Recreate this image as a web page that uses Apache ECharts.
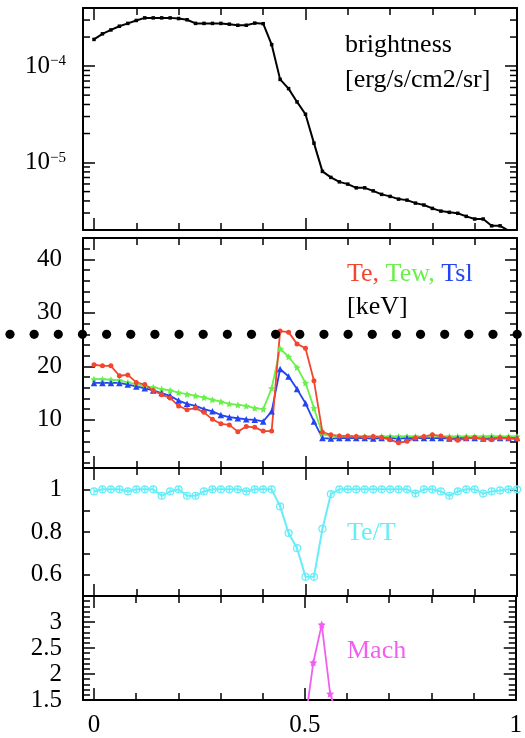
<!DOCTYPE html>
<html>
<head>
<meta charset="utf-8">
<script src="https://cdn.jsdelivr.net/npm/echarts@6/dist/echarts.min.js"></script>
<style>
  html, body { margin: 0; padding: 0; background: #fff; }
  #chart { width: 525px; height: 738px; }
</style>
</head>
<body>
<div id="chart"></div>
<script>
// Radial position (normalised) shared by all four stacked panels
const xs = [0, 0.02, 0.04, 0.06, 0.08, 0.1, 0.12, 0.14, 0.16, 0.18,
  0.2, 0.22, 0.24, 0.26, 0.28, 0.3, 0.32, 0.34, 0.36, 0.38,
  0.4, 0.42, 0.44, 0.46, 0.48, 0.5, 0.52, 0.54, 0.56, 0.58,
  0.6, 0.62, 0.64, 0.66, 0.68, 0.7, 0.72, 0.74, 0.76, 0.78,
  0.8, 0.82, 0.84, 0.86, 0.88, 0.9, 0.92, 0.94, 0.96, 0.98, 1.0];

// Surface brightness [erg/s/cm2/sr]
const brightness = [1.89e-4, 2.16e-4, 2.37e-4, 2.59e-4, 2.77e-4, 2.97e-4, 3.16e-4, 3.16e-4, 3.16e-4, 3.16e-4,
  3.11e-4, 3.02e-4, 2.77e-4, 2.77e-4, 2.77e-4, 2.77e-4, 2.72e-4, 2.65e-4, 2.65e-4, 2.79e-4,
  2.75e-4, 1.67e-4, 7.28e-5, 5.84e-5, 4.25e-5, 3.17e-5, 1.59e-5, 8.1e-6, 7.02e-6, 6.31e-6,
  5.98e-6, 5.47e-6, 5.47e-6, 5.09e-6, 4.68e-6, 4.46e-6, 4.18e-6, 4.08e-6, 3.8e-6, 3.63e-6,
  3.35e-6, 3.14e-6, 3.05e-6, 2.98e-6, 2.77e-6, 2.6e-6, 2.6e-6, 2.21e-6, 2.21e-6, 1.97e-6, 1.7e-6];

// Temperatures [keV]
const te = [20.3, 20.1, 20.1, 18.25, 18.4, 17.0, 16.6, 15.5, 14.7, 14.1,
  12.6, 11.9, 12.2, 11.4, 10.1, 9.25, 9.06, 7.8, 8.75, 8.6,
  7.9, 7.9, 26.6, 26.4, 24.2, 23.4, 17.3, 7.7, 7.2, 7.0,
  7.0, 6.9, 6.8, 6.9, 6.7, 6.3, 5.7, 6.0, 6.6, 6.9,
  7.2, 7.0, 6.5, 6.2, 6.5, 6.7, 6.4, 6.3, 6.6, 6.5, 6.4];
const tew = [17.6, 17.6, 17.5, 17.4, 17.0, 16.7, 16.25, 16.1, 15.75, 15.5,
  15.1, 14.8, 14.5, 14.2, 13.75, 13.4, 13.0, 12.8, 12.6, 12.2,
  12.0, 15.9, 23.3, 21.8, 19.8, 16.9, 12.2, 7.3, 7.0, 6.9,
  6.9, 6.9, 6.9, 6.9, 6.9, 6.9, 6.9, 6.9, 6.9, 6.9,
  7.1, 6.9, 6.9, 6.9, 6.9, 6.9, 6.9, 7.0, 6.9, 6.9, 6.9];
const tsl = [16.9, 16.9, 16.9, 16.9, 16.6, 16.25, 15.9, 15.5, 15.0, 14.5,
  13.6, 13.0, 12.6, 12.0, 11.6, 10.9, 10.5, 10.3, 10.1, 10.0,
  9.7, 11.6, 19.5, 18.1, 15.75, 13.1, 9.7, 6.6, 6.5, 6.6,
  6.6, 6.6, 6.6, 6.5, 6.6, 6.6, 6.5, 6.6, 6.6, 6.6,
  6.6, 6.6, 6.5, 6.6, 6.6, 6.6, 6.5, 6.6, 6.6, 6.6, 6.6];

// Electron-to-ion temperature ratio
const teOverT = [0.99, 1.0, 1.0, 1.0, 0.99, 1.0, 1.0, 1.0, 0.97, 0.99,
  1.0, 0.97, 0.97, 0.99, 1.0, 1.0, 1.0, 1.0, 0.99, 1.0,
  1.0, 1.0, 0.92, 0.795, 0.724, 0.59, 0.59, 0.815, 0.978, 1.0,
  1.0, 1.0, 1.0, 1.0, 1.0, 1.0, 1.0, 1.0, 0.98, 1.0,
  1.0, 0.99, 0.97, 0.99, 1.0, 1.0, 0.98, 0.99, 0.995, 1.0, 1.0];

// Mach number (only defined across the shock)
const mach = [null, null, null, null, null, null, null, null, null, null,
  null, null, null, null, null, null, null, null, null, null,
  null, null, null, null, null, 1.03, 2.22, 2.95, 1.62, 1.12,
  null, null, null, null, null, null, null, null, null, null,
  null, null, null, null, null, null, null, null, null, null, null];

// Reference temperature level drawn as a dotted line [keV]
const refLevel = 26;

// Tick labels per axis
const xTickLabels = [0, 0.5, 1];
const brightTickLabels = [1e-5, 1e-4];
const brightMinorTicks = [3e-6, 4e-6, 5e-6, 6e-6, 7e-6, 8e-6, 9e-6,
  2e-5, 3e-5, 4e-5, 5e-5, 6e-5, 7e-5, 8e-5, 9e-5, 2e-4, 3e-4];
const tempTickLabels = [10, 20, 30, 40];
const ratioTickLabels = [0.6, 0.8, 1];
const machTickLabels = [1.5, 2, 2.5, 3];

const FONT = '"Liberation Serif", "DejaVu Serif", serif';
const C_RED = '#f2462e', C_GREEN = '#6af04a', C_BLUE = '#2244f2',
      C_CYAN = '#66eef8', C_MAG = '#f25ef2';
const STAR = 'path://M0,-10 L2.9,-4 L9.5,-3.1 L4.7,1.5 L5.9,8.1 L0,5 L-5.9,8.1 L-4.7,1.5 L-9.5,-3.1 L-2.9,-4 Z';
const RING_CROSS = 'path://M0,-6 L0,6 M6,0 A6,6 0 1,1 -6,0 A6,6 0 1,1 6,0 Z';

const grids = [
  { left: 83, top: 8, width: 434, height: 222 },
  { left: 83, top: 238, width: 434, height: 230 },
  { left: 83, top: 468, width: 434, height: 128 },
  { left: 83, top: 596, width: 434, height: 111 }
];

const near = (list, v) => list.some(t => Math.abs(t - v) <= Math.abs(t) * 1e-6 + 1e-9);
const lineBlack = { color: '#000', width: 2 };
const tickBlack = { color: '#000', width: 1.5 };

function xPair(gi, withLabels) {
  const base = {
    type: 'value', gridIndex: gi, min: -0.026, max: 1, splitNumber: 2,
    axisLine: { show: true, onZero: false, lineStyle: lineBlack },
    axisTick: { show: true, inside: true, length: 12, lineStyle: tickBlack },
    minorTick: { show: true, splitNumber: 5, length: 7, lineStyle: tickBlack },
    splitLine: { show: false }, minorSplitLine: { show: false }
  };
  return [
    Object.assign({}, base, {
      position: 'bottom',
      axisLabel: {
        show: withLabels, margin: 13, fontFamily: FONT, fontSize: 25, color: '#000',
        formatter: v => near(xTickLabels, v) ? String(+v.toFixed(1)) : ''
      }
    }),
    Object.assign({}, base, { position: 'top', axisLabel: { show: false } })
  ];
}

function yPair(gi, cfg) {
  const base = Object.assign({
    gridIndex: gi,
    axisLine: { show: true, onZero: false, lineStyle: lineBlack },
    axisTick: { show: true, inside: true, length: cfg.tickLen || 12, lineStyle: tickBlack },
    minorTick: { show: !!cfg.minor, splitNumber: cfg.minor || 5, length: 7, lineStyle: tickBlack },
    splitLine: { show: false }, minorSplitLine: { show: false }
  }, cfg.scale);
  return [
    Object.assign({}, base, {
      position: 'left',
      axisLabel: Object.assign({
        show: true, margin: 21, fontFamily: FONT, fontSize: 25, color: '#000'
      }, cfg.label)
    }),
    Object.assign({}, base, { position: 'right', axisLabel: { show: false } })
  ];
}

const xAxes = [].concat(xPair(0, false), xPair(1, false), xPair(2, false), xPair(3, true));
const yAxes = [].concat(
  yPair(0, {
    scale: { type: 'log', logBase: 10, min: 2e-6, max: 4e-4 },
    label: {
      margin: 17,
      formatter: v => near(brightTickLabels, v)
        ? '{b|10}{s|−' + (-Math.round(Math.log10(v))) + '}' : '',
      rich: {
        b: { fontFamily: FONT, fontSize: 25, color: '#000' },
        s: { fontFamily: FONT, fontSize: 15, color: '#000', verticalAlign: 'top' }
      }
    }
  }),
  yPair(1, {
    scale: { type: 'value', min: 1, max: 44, splitNumber: 4 }, minor: 5,
    label: { formatter: v => near(tempTickLabels, v) ? String(v) : '' }
  }),
  yPair(2, {
    scale: { type: 'value', min: 0.5, max: 1.1, interval: 0.1 }, tickLen: 7,
    label: { formatter: v => near(ratioTickLabels, v) ? String(+v.toFixed(1)) : '' }
  }),
  yPair(3, {
    scale: { type: 'value', min: 1.5, max: 3.5, interval: 0.5 }, minor: 5,
    label: { formatter: v => near(machTickLabels, v) ? String(+v.toFixed(1)) : '' }
  })
);

const pairs = vals => xs.map((x, i) => [x, vals[i]]);

function lineSeries(gi, vals, color, symbol, size, extra) {
  return Object.assign({
    type: 'line', xAxisIndex: gi * 2, yAxisIndex: gi * 2,
    data: pairs(vals), symbol: symbol, symbolSize: size,
    showSymbol: true, connectNulls: false, clip: true,
    lineStyle: { color: color, width: 1.8 },
    itemStyle: { color: color },
    emphasis: { disabled: true }, z: 3
  }, extra || {});
}

const series = [
  lineSeries(0, brightness, '#000', 'rect', 3.5, { lineStyle: { color: '#000', width: 2 } }),
  {
    // log-axis minor ticks at 2..9 × 10^n on both vertical edges
    type: 'custom', xAxisIndex: 0, yAxisIndex: 0, coordinateSystem: 'cartesian2d',
    data: brightMinorTicks.map(v => [0, v]), clip: false, silent: true, z: 4,
    renderItem: (params, api) => {
      const y = api.coord([api.value(0), api.value(1)])[1];
      const cs = params.coordSys;
      const st = { stroke: '#000', lineWidth: 1.5 };
      return {
        type: 'group', children: [
          { type: 'line', shape: { x1: cs.x, y1: y, x2: cs.x + 7, y2: y }, style: st },
          { type: 'line', shape: { x1: cs.x + cs.width, y1: y, x2: cs.x + cs.width - 7, y2: y }, style: st }
        ]
      };
    }
  },
  lineSeries(1, tew, C_GREEN, STAR, 7),
  lineSeries(1, tsl, C_BLUE, 'triangle', 6.5),
  lineSeries(1, te, C_RED, 'circle', 5),
  lineSeries(2, teOverT, C_CYAN, RING_CROSS, 7, {
    lineStyle: { color: C_CYAN, width: 2 },
    itemStyle: { color: 'rgba(255,255,255,0)', borderColor: C_CYAN, borderWidth: 1.2 }
  }),
  lineSeries(3, mach, C_MAG, STAR, 8)
];

const txt = (id, x, y, text, extra) => ({
  type: 'text', id: id, x: x, y: y, z: 10,
  style: Object.assign({
    text: text, font: '26px ' + FONT, fill: '#000', verticalAlign: 'middle'
  }, extra || {})
});

const graphics = [
  txt('t-bright', 345, 45, 'brightness'),
  txt('t-unit', 345, 80, '[erg/s/cm2/sr]'),
  txt('t-temp', 347, 274, '{r|Te, }{g|Tew, }{b|Tsl}', {
    rich: {
      r: { fill: C_RED, font: '26px ' + FONT },
      g: { fill: C_GREEN, font: '26px ' + FONT },
      b: { fill: C_BLUE, font: '26px ' + FONT }
    }
  }),
  txt('t-kev', 347, 307, '[keV]'),
  txt('t-ratio', 347, 533, 'Te/T', { fill: C_CYAN }),
  txt('t-mach', 347, 651, 'Mach', { fill: C_MAG })
];

const chart = echarts.init(document.getElementById('chart'), null, { renderer: 'canvas' });
chart.setOption({
  animation: false,
  backgroundColor: '#fff',
  grid: grids,
  xAxis: xAxes,
  yAxis: yAxes,
  series: series,
  graphic: graphics
});

// Dotted reference line at refLevel keV, running across the full width
const yRef = chart.convertToPixel({ yAxisIndex: 2 }, refLevel);
const xEnd = chart.convertToPixel({ xAxisIndex: 2 }, 1);
const dots = [];
const step = 24.15;
for (let k = 0, x = 10; x <= xEnd + 1; k++, x = 10 + k * step) {
  dots.push({ type: 'circle', id: 'dot' + k, z: 20, shape: { cx: x, cy: yRef, r: 4.6 }, style: { fill: '#000' } });
}
chart.setOption({ graphic: dots });
</script>
</body>
</html>
